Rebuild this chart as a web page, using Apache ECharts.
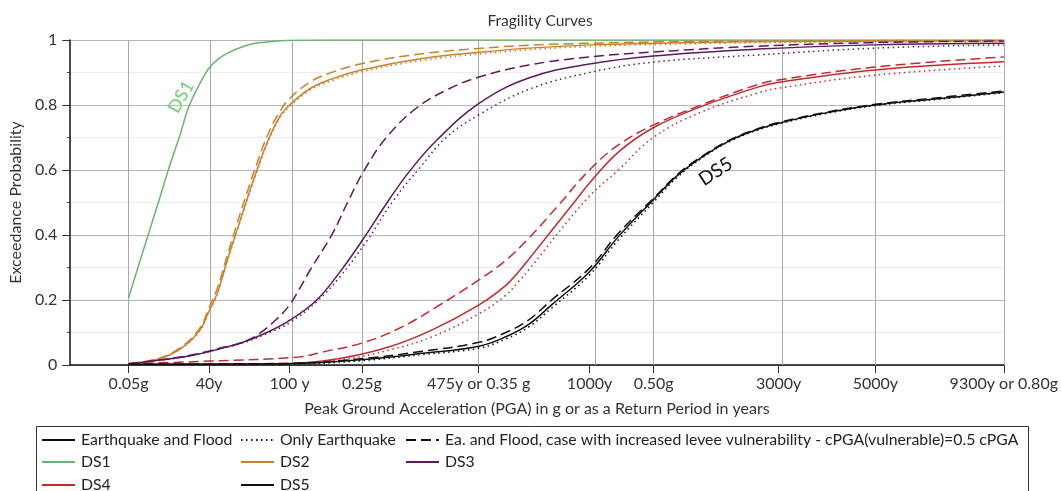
<!DOCTYPE html>
<html>
<head>
<meta charset="utf-8">
<script src="https://cdn.jsdelivr.net/npm/echarts@6/dist/echarts.min.js"></script>
<style>html,body{margin:0;padding:0;background:#fff}#c{width:1061px;height:491px}</style>
</head>
<body>
<div id="c"></div>
<script>
// ---- tick labels (x axis: PGA in g) ----
var tickValues = [0.05, 0.119, 0.188, 0.25, 0.35, 0.445, 0.50, 0.607, 0.690, 0.80];
var tickLabels = ['0.05g', '40y', '100 y', '0.25g', '475y or 0.35 g', '1000y', '0.50g', '3000y', '5000y', '9300y or 0.80g'];

// ---- curves: [PGA, probability] ----
var ds1 = [[0.05,0.206],[0.0627,0.354],[0.0755,0.50],[0.0858,0.62],[0.0943,0.71],[0.1011,0.79],[0.1113,0.868],[0.1182,0.91],[0.1257,0.938],[0.1344,0.959],[0.1515,0.984],[0.1685,0.994],[0.1907,0.999],[0.25,1],[0.4,1],[0.6,1],[0.8,1]];

var ds2Solid = [[0.05,0.004],[0.0772,0.02],[0.0968,0.056],[0.1113,0.108],[0.1182,0.16],[0.1259,0.22],[0.1344,0.32],[0.1429,0.415],[0.1515,0.51],[0.160,0.60],[0.1694,0.69],[0.1796,0.765],[0.188,0.80],[0.2052,0.85],[0.2223,0.878],[0.2496,0.908],[0.3016,0.943],[0.3503,0.962],[0.3929,0.975],[0.445,0.985],[0.5,0.99],[0.6,0.995],[0.8,0.998]];
var ds2Dotted = [[0.05,0.004],[0.0772,0.02],[0.0968,0.055],[0.1113,0.106],[0.1182,0.158],[0.1259,0.218],[0.1344,0.317],[0.1429,0.41],[0.1515,0.505],[0.160,0.595],[0.1694,0.685],[0.1796,0.76],[0.188,0.795],[0.2052,0.845],[0.2223,0.872],[0.2496,0.902],[0.3016,0.937],[0.3503,0.957],[0.3929,0.97],[0.445,0.98],[0.5,0.986],[0.6,0.992],[0.8,0.996]];
var ds2Dashed = [[0.05,0.004],[0.0772,0.022],[0.0968,0.06],[0.1113,0.115],[0.1182,0.17],[0.1259,0.235],[0.1344,0.335],[0.1429,0.435],[0.1515,0.53],[0.160,0.62],[0.1694,0.71],[0.1796,0.78],[0.188,0.82],[0.2052,0.87],[0.2223,0.898],[0.2496,0.927],[0.3016,0.958],[0.3503,0.974],[0.3929,0.984],[0.445,0.99],[0.5,0.994],[0.6,0.997],[0.8,0.999]];

var ds3Solid = [[0.05,0.004],[0.0772,0.015],[0.1054,0.03],[0.1284,0.05],[0.148,0.07],[0.1685,0.10],[0.188,0.137],[0.2112,0.20],[0.2308,0.285],[0.2496,0.38],[0.2735,0.51],[0.2905,0.595],[0.3136,0.69],[0.3503,0.805],[0.3929,0.883],[0.445,0.926],[0.4996,0.951],[0.5892,0.972],[0.6899,0.985],[0.8,0.99]];
var ds3Dotted = [[0.05,0.004],[0.0772,0.015],[0.1054,0.03],[0.1284,0.05],[0.148,0.068],[0.1685,0.097],[0.188,0.13],[0.2112,0.195],[0.2308,0.27],[0.2538,0.38],[0.2777,0.51],[0.2991,0.605],[0.3221,0.70],[0.3503,0.77],[0.3929,0.848],[0.445,0.90],[0.4996,0.932],[0.5892,0.954],[0.6899,0.975],[0.8,0.985]];
var ds3Dashed = [[0.05,0.004],[0.0772,0.016],[0.1054,0.032],[0.1284,0.052],[0.148,0.07],[0.1625,0.098],[0.1771,0.142],[0.188,0.185],[0.1967,0.236],[0.2052,0.29],[0.2248,0.405],[0.2376,0.50],[0.2521,0.60],[0.2709,0.70],[0.2965,0.79],[0.3247,0.85],[0.3503,0.886],[0.3929,0.923],[0.445,0.948],[0.4996,0.963],[0.5892,0.981],[0.6899,0.992],[0.8,0.997]];

var ds4Solid = [[0.05,0.002],[0.188,0.005],[0.2308,0.02],[0.2735,0.056],[0.3102,0.108],[0.3503,0.185],[0.3733,0.245],[0.3844,0.288],[0.3929,0.325],[0.4339,0.51],[0.445,0.56],[0.4697,0.655],[0.4996,0.73],[0.5405,0.795],[0.5892,0.855],[0.6071,0.87],[0.6899,0.908],[0.8,0.933]];
var ds4Dotted = [[0.05,0.001],[0.188,0.004],[0.2308,0.015],[0.2735,0.046],[0.3102,0.087],[0.3503,0.158],[0.3733,0.215],[0.3844,0.258],[0.3929,0.293],[0.4424,0.51],[0.4697,0.60],[0.4996,0.70],[0.5405,0.778],[0.5892,0.837],[0.6071,0.852],[0.6899,0.892],[0.8,0.92]];
var ds4Dashed = [[0.05,0.004],[0.12,0.012],[0.1967,0.025],[0.2163,0.04],[0.2504,0.068],[0.282,0.113],[0.3136,0.178],[0.3503,0.262],[0.3733,0.322],[0.3929,0.39],[0.4168,0.485],[0.445,0.60],[0.4697,0.677],[0.4996,0.738],[0.5405,0.80],[0.5892,0.863],[0.6071,0.877],[0.6899,0.917],[0.8,0.948]];

var ds5Solid = [[0.05,0.002],[0.188,0.004],[0.2453,0.015],[0.3016,0.036],[0.3503,0.058],[0.3733,0.087],[0.3929,0.125],[0.4125,0.185],[0.445,0.287],[0.4697,0.395],[0.4996,0.508],[0.5209,0.585],[0.5439,0.646],[0.5661,0.692],[0.5892,0.725],[0.6071,0.744],[0.6464,0.775],[0.6899,0.80],[0.7454,0.82],[0.8,0.84]];
var ds5Dotted = [[0.05,0.001],[0.188,0.003],[0.2453,0.012],[0.3016,0.032],[0.3503,0.052],[0.3733,0.08],[0.3929,0.117],[0.4125,0.175],[0.445,0.277],[0.4697,0.385],[0.4996,0.50],[0.5209,0.58],[0.5439,0.643],[0.5661,0.69],[0.5892,0.723],[0.6071,0.742],[0.6464,0.773],[0.6899,0.798],[0.7454,0.818],[0.8,0.838]];
var ds5Dashed = [[0.05,0.002],[0.188,0.005],[0.2453,0.018],[0.3016,0.042],[0.3503,0.07],[0.3733,0.10],[0.3929,0.139],[0.4125,0.2],[0.445,0.298],[0.4697,0.405],[0.4996,0.512],[0.5209,0.588],[0.5439,0.648],[0.5661,0.694],[0.5892,0.727],[0.6071,0.746],[0.6464,0.777],[0.6899,0.802],[0.7454,0.823],[0.8,0.843]];

var caseNames = ['Earthquake and Flood', 'Only Earthquake', 'Ea. and Flood, case with increased levee vulnerability - cPGA(vulnerable)=0.5 cPGA'];
var dsNames = ['DS1', 'DS2', 'DS3', 'DS4', 'DS5'];
var dsColors = ['#6cb36f', '#c7822c', '#5c1a5f', '#c22a30', '#111111'];

var FONT = 'Lato, "Noto Sans", sans-serif';
var TXT = '#333';
var lineTypes = ['solid', [1.5, 3.5], [10, 5]];

function curve(name, color, data, kind) {
  return {
    name: name, type: 'line', data: data, symbol: 'none', smooth: 0.4,
    lineStyle: { color: color, width: 1.5, type: lineTypes[kind] },
    itemStyle: { color: color }, z: 3, silent: true
  };
}

var series = [];
var ds1Series = curve('DS1', dsColors[0], ds1, 0);
ds1Series.markLine = {
  silent: true, symbol: 'none', z: 1, label: { show: false },
  lineStyle: { color: '#aaaaaa', width: 1, type: 'solid' },
  data: tickValues.map(function (v) { return { xAxis: v }; })
};
ds1Series.markPoint = {
  symbol: 'circle', symbolSize: 0, silent: true,
  data: [{ coord: [0.095, 0.825], value: 'DS1' }],
  label: { show: true, position: 'inside', formatter: 'DS1', rotate: 60, fontSize: 18, fontFamily: FONT, color: '#72cf72' }
};
series.push(ds1Series);
var groups = [[ds2Solid, ds2Dotted, ds2Dashed], [ds3Solid, ds3Dotted, ds3Dashed], [ds4Solid, ds4Dotted, ds4Dashed], [ds5Solid, ds5Dotted, ds5Dashed]];
groups.forEach(function (g, i) {
  g.forEach(function (d, k) { series.push(curve(dsNames[i + 1], dsColors[i + 1], d, k)); });
});
series[series.length - 3].markPoint = {
  symbol: 'circle', symbolSize: 0, silent: true,
  data: [{ coord: [0.553, 0.595], value: 'DS5' }],
  label: { show: true, position: 'inside', formatter: 'DS5', rotate: 33, fontSize: 19, fontFamily: FONT, color: '#111' }
};
caseNames.forEach(function (n, k) {
  series.push({ name: n, type: 'line', data: [], symbol: 'none', lineStyle: { color: '#111', width: 1.5, type: lineTypes[k] }, itemStyle: { color: '#111' } });
});

function legendAt(name, left, top) {
  return {
    data: [name], left: left, top: top, padding: 0, itemWidth: 33, itemHeight: 14, itemGap: 0,
    selectedMode: false, itemStyle: { opacity: 0 },
    textStyle: { fontFamily: FONT, fontSize: 15.8, color: '#222', padding: [0, 0, 0, 1] }
  };
}

var option = {
  animation: false,
  backgroundColor: '#fff',
  title: { text: 'Fragility Curves', left: 535, top: 8, textAlign: 'center', textStyle: { fontFamily: FONT, fontSize: 15.5, fontWeight: 'normal', color: TXT } },
  grid: { left: 70, right: 54, top: 40, bottom: 126 },
  xAxis: {
    type: 'value', min: 0, max: 0.8,
    name: 'Peak Ground Acceleration (PGA) in g or as a Return Period in years',
    nameLocation: 'middle', nameGap: 36, nameTextStyle: { fontFamily: FONT, fontSize: 16, color: TXT },
    axisLine: { onZero: false, lineStyle: { color: '#111', width: 1.5 } },
    axisTick: { show: true, length: 8, customValues: tickValues, lineStyle: { color: '#333' } },
    axisLabel: {
      customValues: tickValues, margin: 11, fontFamily: FONT, fontSize: 16, color: TXT,
      formatter: function (v) {
        var best = 0;
        for (var i = 0; i < tickValues.length; i++) { if (Math.abs(tickValues[i] - v) < Math.abs(tickValues[best] - v)) best = i; }
        return tickLabels[best];
      }
    },
    splitLine: { show: false }
  },
  yAxis: {
    type: 'value', min: 0, max: 1, interval: 0.2,
    name: 'Exceedance Probability', nameLocation: 'middle', nameGap: 42,
    nameTextStyle: { fontFamily: FONT, fontSize: 16, color: TXT },
    axisLine: { show: true, lineStyle: { color: '#111', width: 1.5 } },
    axisTick: { show: true, length: 8, lineStyle: { color: '#333' } },
    minorTick: { show: true, splitNumber: 2, length: 3, lineStyle: { color: '#333' } },
    axisLabel: { margin: 13, fontFamily: FONT, fontSize: 16, color: TXT, formatter: function (v) { return String(Math.round(v * 10) / 10); } },
    splitLine: { show: true, lineStyle: { color: '#b5b5b5', width: 1 } },
    minorSplitLine: { show: true, lineStyle: { color: '#ededed', width: 1 } }
  },
  legend: [
    legendAt(caseNames[0], 41, 432),
    legendAt(caseNames[1], 240, 432),
    legendAt(caseNames[2], 405, 432),
    legendAt('DS1', 41, 454),
    legendAt('DS2', 240, 454),
    legendAt('DS3', 405, 454),
    legendAt('DS4', 41, 477),
    legendAt('DS5', 240, 477)
  ],
  graphic: [{
    type: 'rect', silent: true, z: -1,
    shape: { x: 36.5, y: 426.5, width: 992, height: 80 },
    style: { fill: 'none', stroke: '#333', lineWidth: 1 }
  }],
  series: series
};

var chart = echarts.init(document.getElementById('c'), null, { renderer: 'canvas' });
chart.setOption(option);
</script>
</body>
</html>
